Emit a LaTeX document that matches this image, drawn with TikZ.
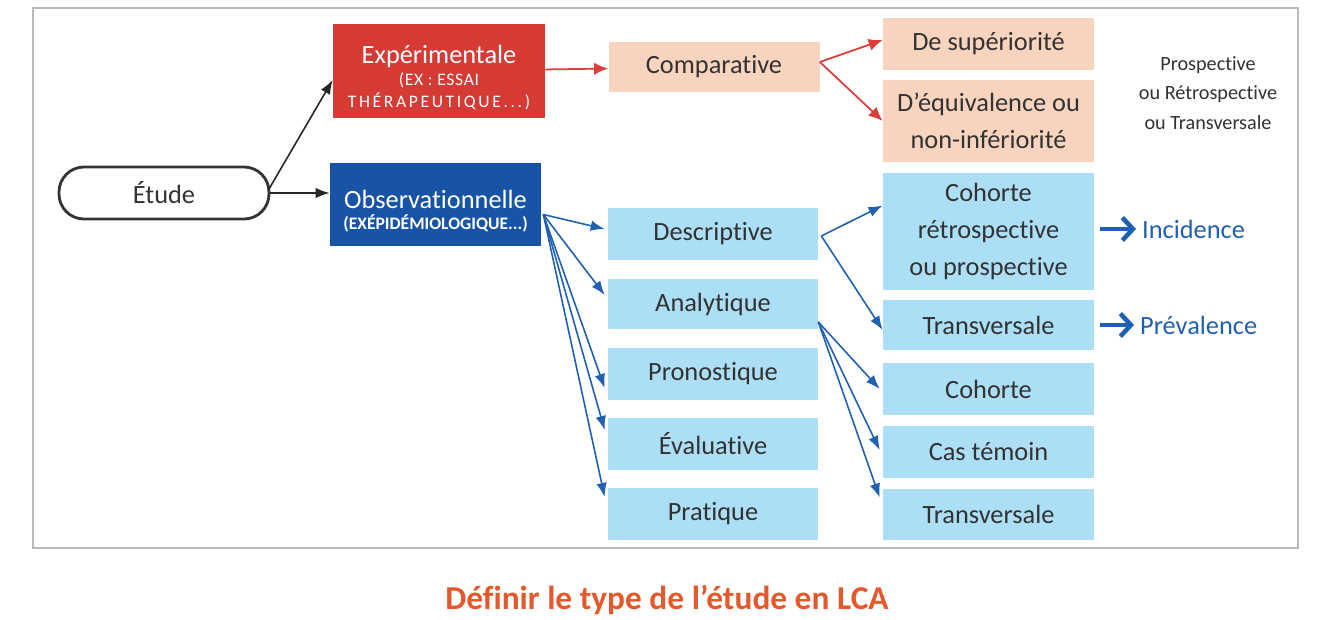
\documentclass[tikz,border=0pt]{standalone}
\usepackage{fontspec}
\setmainfont{Carlito}[Ligatures=NoCommon]
\usetikzlibrary{arrows.meta,calc,positioning}
\definecolor{expcol}{RGB}{214,58,52}
\definecolor{obscol}{RGB}{24,84,165}
\definecolor{peachcol}{RGB}{248,212,190}
\definecolor{skycol}{RGB}{172,223,245}
\definecolor{arrowcol}{RGB}{32,96,176}
\definecolor{redarrow}{RGB}{222,60,60}
\definecolor{titlecol}{RGB}{228,88,44}
\definecolor{txtcol}{RGB}{50,50,50}
\newcommand{\boxfont}{\fontsize{15}{21}\selectfont}
\newcommand{\capsfont}{\fontsize{10}{12.5}\selectfont}

\begin{document}
\begin{tikzpicture}[
  peachbox/.style={fill=peachcol, text=txtcol, font=\boxfont, align=center, minimum width=4.22cm, inner sep=0pt},
  skybox/.style={fill=skycol, text=txtcol, font=\boxfont, align=center, minimum width=4.2cm, inner sep=0pt},
  blackarr/.style={black!85, line width=0.9pt, -{Latex[length=8pt,width=6pt]}},
  redarr/.style={redarrow, line width=1pt, -{Latex[length=8pt,width=7pt]}},
  bluearr/.style={arrowcol, line width=0.9pt, -{Latex[length=8pt,width=6pt]}},
  bigarr/.style={arrowcol, line width=2.6pt, -{Straight Barb[length=6pt,width=13pt]}}
]
\useasboundingbox (0,0) rectangle (26.68,-12.38);
% frame
\draw[gray!55, line width=1.6pt] (0.66,-0.16) rectangle (25.96,-10.96);
% first level
\node[draw=black!80, line width=1.6pt, rounded corners=0.5cm, minimum width=4.2cm, minimum height=1.04cm,
  font=\boxfont, text=txtcol] (etude) at (3.28,-3.86) {Étude};
\node[fill=expcol, text=white, align=center, font=\capsfont, minimum width=4.24cm, minimum height=1.88cm,
  inner sep=0pt] (exp) at (8.78,-1.42)
  {{\boxfont\rule{0pt}{18pt}Expérimentale}\\{\addfontfeature{LetterSpace=4}(EX : ESSAI}\\{\addfontfeature{LetterSpace=15}THÉRAPEUTIQUE...)}};
\node[fill=obscol, text=white, align=center, font=\capsfont, minimum width=4.22cm, minimum height=1.66cm,
  inner sep=0pt] (obs) at (8.71,-4.09)
  {{\boxfont\rule{0pt}{18pt}Observationnelle}\\{\bfseries(EXÉPIDÉMIOLOGIQUE...)}};
% experimental branch
\node[peachbox, minimum height=1.0cm] (comp) at (14.28,-1.34) {Comparative};
\node[peachbox, minimum height=1.04cm] (sup) at (19.77,-0.88) {De supériorité};
\node[peachbox, minimum height=1.64cm] (equi) at (19.77,-2.42) {D’équivalence ou\\non-infériorité};
\node[font=\fontsize{11.5}{17}\selectfont, text=txtcol, align=center] (note) at (24.16,-1.86)
  {Prospective\\ou Rétrospective\\ou Transversale};
% observational branch
\node[skybox, minimum height=1.04cm] (desc) at (14.26,-4.68) {Descriptive};
\node[skybox, minimum height=1.0cm] (ana) at (14.26,-6.08) {Analytique};
\node[skybox, minimum height=1.04cm] (pron) at (14.26,-7.48) {Pronostique};
\node[skybox, minimum height=1.04cm] (eval) at (14.26,-8.88) {Évaluative};
\node[skybox, minimum height=1.04cm] (prat) at (14.26,-10.28) {Pratique};
\node[skybox, minimum width=4.22cm, minimum height=2.34cm] (coh1) at (19.77,-4.63) {Cohorte\\rétrospective\\ou prospective};
\node[skybox, minimum width=4.22cm, minimum height=1.0cm] (trans1) at (19.77,-6.5) {Transversale};
\node[skybox, minimum width=4.22cm, minimum height=1.04cm] (coh2) at (19.77,-7.78) {Cohorte};
\node[skybox, minimum width=4.22cm, minimum height=1.04cm] (cas) at (19.77,-9.04) {Cas témoin};
\node[skybox, minimum width=4.22cm, minimum height=1.02cm] (trans2) at (19.77,-10.29) {Transversale};
% measures
\node[font=\boxfont, text=arrowcol, anchor=west] (inc) at (22.72,-4.58) {Incidence};
\node[font=\boxfont, text=arrowcol, anchor=west] (prev) at (22.68,-6.5) {Prévalence};
\node[font=\fontsize{19}{21}\selectfont\bfseries, text=titlecol] (title) at (13.34,-12.0) {Définir le type de l’étude en LCA};
% connectors
\draw[blackarr] ([xshift=-0.04cm,yshift=0.06cm]etude.east) -- ([yshift=-0.18cm]exp.west);
\draw[blackarr] (etude.east) -- (etude.east -| obs.west);
\draw[redarr] (exp) -- (comp);
\foreach \t/\s in {sup/0.08, equi/0}{
  \draw[redarr] ([yshift=0.1cm]comp.east) -- ([yshift=\s cm]\t.west);
}
\coordinate (obsout) at ([xshift=0.04cm,yshift=-0.2cm]obs.east);
\foreach \t/\s in {desc/0.1, ana/0.18, pron/-0.28, eval/0.28, prat/0.34}{
  \draw[bluearr] (obsout) -- ([xshift=-0.06cm,yshift=\s cm]\t.west);
}
\foreach \t/\s in {coh1/0.52, trans1/-0.1}{
  \draw[bluearr] ([xshift=0.06cm,yshift=-0.04cm]desc.east) -- ([yshift=\s cm]\t.west);
}
\coordinate (anaout) at ([yshift=-0.36cm]ana.east);
\foreach \t/\s in {coh2/0, cas/0.04, trans2/0.34}{
  \draw[bluearr] (anaout) -- ([xshift=-0.06cm,yshift=\s cm]\t.west);
}
\draw[bigarr, shorten <=0.12cm] (coh1.east |- inc.west) -- (inc.west);
\draw[bigarr, shorten <=0.12cm] (trans1.east |- prev.west) -- (prev.west);
\end{tikzpicture}
\end{document}
